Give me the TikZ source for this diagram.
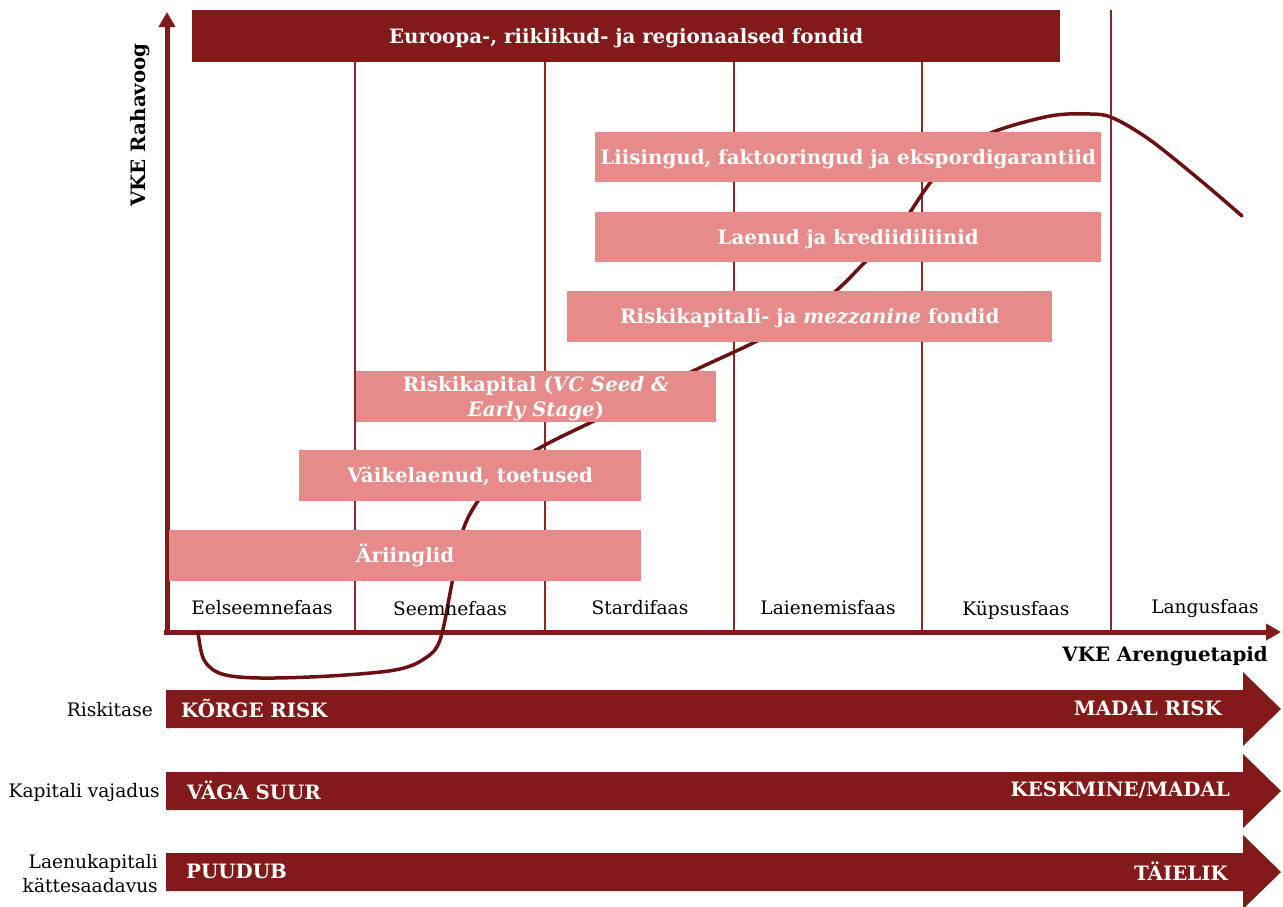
\documentclass[tikz,border=0pt]{standalone}
\usepackage{fontspec}
\setmainfont{DejaVu Serif}
\usetikzlibrary{arrows.meta}
\definecolor{dred}{HTML}{821A1A}
\definecolor{pinkb}{HTML}{E68A8A}
\definecolor{curvec}{HTML}{6B1111}
\definecolor{vline}{HTML}{8C2A2A}
\begin{document}
\begin{tikzpicture}[x=1pt,y=-1pt,
  pbox/.style={fill=pinkb, draw=none, text=white, inner sep=0pt, anchor=north west,
    font=\bfseries\fontsize{19.8}{25}\selectfont, align=center},
  onel/.style={text height=16pt, text depth=2pt},
  dbox/.style={fill=dred, draw=none, text=white, inner sep=0pt, anchor=north west,
    font=\bfseries\fontsize{19.8}{25}\selectfont},
  boxtxt/.style={text=white, inner sep=0pt, font=\bfseries\fontsize{19.8}{25}\selectfont, align=center},
  phase/.style={font=\fontsize{18.6}{22}\selectfont, text=black, inner sep=0pt},
  sidelab/.style={font=\fontsize{18.6}{24}\selectfont, text=black, inner sep=0pt, anchor=east, align=right},
  arrtxt/.style={font=\bfseries\fontsize{19.8}{22}\selectfont, text=white, inner sep=0pt},
  axislab/.style={font=\bfseries\fontsize{19.8}{24}\selectfont, text=black, inner sep=0pt},
  sep/.style={draw=vline, line width=1.5pt},
  axisline/.style={draw=dred, line width=5pt, -{Triangle[length=15pt,width=16pt]}},
  bigarrow/.style={fill=dred, draw=none}]
\useasboundingbox (0,0) rectangle (1283,906);

% separator lines
\foreach \x in {355,545,734,922,1111} \draw[sep] (\x,10) -- (\x,632);

% axes
\coordinate (origin) at (167,632);
\coordinate (ytip) at (167,12);
\coordinate (xtip) at (1281,632);
\coordinate (xstart) at (164,632);
\draw[axisline] (167,634.5) -- (ytip);
\draw[axisline] (xstart) -- (xtip);

% curve
\draw[curvec, line width=3.5pt, line cap=round] plot[smooth, tension=0.55] coordinates {
 (198,632) (204,660) (222,674) (260,678) (330,676) (395,670) (424,659) (440,640)
 (452,583) (463,530) (480,498) (505,470) (545,445) (600,418) (650,393) (693,371)
 (753,343) (800,318) (837,290) (870,257) (897,231) (930,183) (960,152) (993,132)
 (1050,116) (1090,114) (1113,118) (1150,140) (1200,180) (1242,216)};

% phase labels
\node[phase] (p1) at (262,608) {Eelseemnefaas};
\node[phase] (p2) at (450,609) {Seemnefaas};
\node[phase] (p3) at (640,608) {Stardifaas};
\node[phase] (p4) at (828,608) {Laienemisfaas};
\node[phase] (p5) at (1016,610) {Küpsusfaas};
\node[phase] (p6) at (1205,608) {Langusfaas};

% boxes
\node[dbox, onel, minimum width=868pt, minimum height=52pt] (eu) at (192,10) {Euroopa-, riiklikud- ja regionaalsed fondid};
\node[pbox, onel, minimum width=506pt, minimum height=50pt] (liis) at (595,132) {Liisingud, faktooringud ja ekspordigarantiid};
\node[pbox, onel, minimum width=506pt, minimum height=50pt] (laen) at (595,212) {Laenud ja krediidiliinid};
\node[pbox, onel, minimum width=485pt, minimum height=51pt] (mezz) at (567,291) {Riskikapitali- ja \textit{mezzanine} fondid};
\node[pbox, minimum width=360pt, minimum height=51pt] (vc) at (356,371) {};
\node[boxtxt] (vctxt) at (536,398.5) {Riskikapital (\textit{VC Seed \&}\\\textit{Early Stage})};
\node[pbox, onel, minimum width=342pt, minimum height=51pt] (vaike) at (299,450) {Väikelaenud, toetused};
\node[pbox, onel, minimum width=472pt, minimum height=51pt] (ari) at (169,530) {Äriinglid};

% axis labels
\node[axislab, rotate=90] (ylab) at (140,125) {VKE Rahavoog};
\node[axislab, anchor=east] (xlab) at (1268,656) {VKE Arenguetapid};

% bottom arrows
\fill[bigarrow] (166,690) -- (1243,690) -- (1243,672) -- (1281,709) -- (1243,746) -- (1243,728) -- (166,728) -- cycle;
\fill[bigarrow] (166,772) -- (1243,772) -- (1243,754) -- (1281,791) -- (1243,828) -- (1243,810) -- (166,810) -- cycle;
\fill[bigarrow] (166,853) -- (1243,853) -- (1243,835) -- (1281,872) -- (1243,909) -- (1243,891) -- (166,891) -- cycle;

\node[arrtxt, anchor=west] (a1l) at (181,708) {KÕRGE RISK};
\node[arrtxt, anchor=east] (a1r) at (1222,708) {MADAL RISK};
\node[arrtxt, anchor=west] (a2l) at (187,790) {VÄGA SUUR};
\node[arrtxt, anchor=east] (a2r) at (1230,790) {KESKMINE/MADAL};
\node[arrtxt, anchor=west] (a3l) at (186,871) {PUUDUB};
\node[arrtxt, anchor=east] (a3r) at (1228,871) {TÄIELIK};

\node[sidelab] (s1) at (153,710) {Riskitase};
\node[sidelab] (s2) at (160,792) {Kapitali vajadus};
\node[sidelab] (s3) at (158,874) {Laenukapitali\\kättesaadavus};
\end{tikzpicture}
\end{document}
